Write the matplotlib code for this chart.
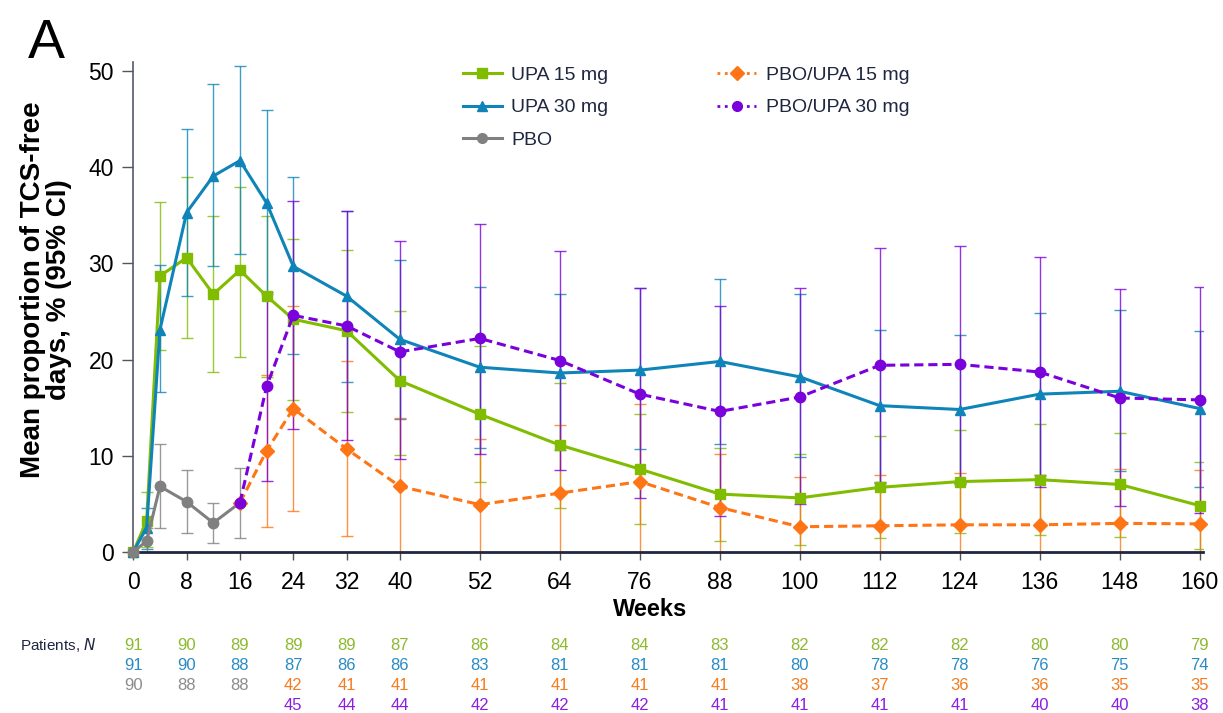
#!/usr/bin/env python

import numpy as np
import matplotlib
matplotlib.use('Agg')
from matplotlib import pyplot as plt
from matplotlib.lines import Line2D
from matplotlib import transforms

plt.rcParams['font.family'] = ['Liberation Sans', 'DejaVu Sans']

# Weeks for each group
upa_weeks = [0, 2, 4, 8, 12, 16, 20, 24, 32, 40, 52, 64, 76, 88, 100, 112, 124, 136, 148, 160]
pbo_weeks = [0, 2, 4, 8, 12, 16]
switch_weeks = [16, 20, 24, 32, 40, 52, 64, 76, 88, 100, 112, 124, 136, 148, 160]

# UPA 15 mg
upa15_mean = [0, 3.2, 28.7, 30.6, 26.8, 29.3, 26.6, 24.2, 23.0, 17.8, 14.3, 11.1, 8.6, 6.0, 5.6, 6.7, 7.3, 7.5, 7.0, 4.8]
upa15_lo = [0, 0.5, 21.0, 22.2, 18.7, 20.3, 18.2, 15.8, 14.5, 10.1, 7.3, 4.6, 2.9, 1.1, 0.7, 1.4, 1.9, 1.7, 1.5, 0.3]
upa15_hi = [0, 6.2, 36.4, 39.0, 34.9, 38.0, 34.9, 32.5, 31.4, 25.1, 21.4, 17.6, 14.3, 10.8, 10.2, 12.0, 12.7, 13.3, 12.4, 9.3]

# UPA 30 mg
upa30_mean = [0, 2.5, 23.1, 35.3, 39.1, 40.7, 36.3, 29.7, 26.6, 22.1, 19.2, 18.6, 18.9, 19.8, 18.2, 15.2, 14.8, 16.4, 16.7, 14.9]
upa30_lo = [0, 0.3, 16.6, 26.6, 29.7, 31.0, 26.8, 20.6, 17.7, 13.8, 10.8, 10.6, 10.7, 11.2, 9.9, 7.3, 7.0, 8.0, 8.4, 6.7]
upa30_hi = [0, 4.5, 29.8, 44.0, 48.7, 50.5, 46.0, 39.0, 35.5, 30.4, 27.5, 26.8, 27.4, 28.4, 26.8, 23.1, 22.6, 24.8, 25.2, 23.0]

# PBO
pbo_mean = [0, 1.1, 6.8, 5.2, 3.0, 5.1]
pbo_lo = [0, 0, 2.5, 2.0, 0.9, 1.4]
pbo_hi = [0, 2.5, 11.2, 8.5, 5.1, 8.7]

# PBO/UPA 15 mg (first point is the week-16 PBO value, no CI drawn)
sw15_mean = [5.1, 10.5, 14.9, 10.7, 6.8, 4.9, 6.1, 7.3, 4.6, 2.6, 2.7, 2.8, 2.8, 2.95, 2.9]
sw15_lo = [5.1, 2.6, 4.2, 1.6, 0, 0, 0, 0, 0, 0, 0, 0, 0, 0, 0]
sw15_hi = [5.1, 18.4, 25.6, 19.8, 13.9, 11.7, 13.2, 15.4, 10.2, 7.8, 8.0, 8.2, 8.0, 8.6, 8.5]

# PBO/UPA 30 mg
sw30_mean = [5.1, 17.2, 24.6, 23.5, 20.8, 22.2, 19.9, 16.4, 14.6, 16.1, 19.4, 19.5, 18.7, 16.0, 15.8]
sw30_lo = [5.1, 7.4, 12.8, 11.6, 9.6, 10.2, 8.5, 5.6, 3.7, 5.0, 7.2, 7.2, 6.7, 4.8, 4.0]
sw30_hi = [5.1, 27.0, 36.5, 35.5, 32.3, 34.1, 31.3, 27.4, 25.6, 27.4, 31.6, 31.8, 30.7, 27.3, 27.5]

# Patients at risk table
tick_weeks = [0, 8, 16, 24, 32, 40, 52, 64, 76, 88, 100, 112, 124, 136, 148, 160]
n_upa15 = [91, 90, 89, 89, 89, 87, 86, 84, 84, 83, 82, 82, 82, 80, 80, 79]
n_upa30 = [91, 90, 88, 87, 86, 86, 83, 81, 81, 81, 80, 78, 78, 76, 75, 74]
n_pbo = [90, 88, 88]
n_sw15 = [42, 41, 41, 41, 41, 41, 41, 38, 37, 36, 36, 35, 35]
n_sw30 = [45, 44, 44, 42, 42, 42, 41, 41, 41, 41, 40, 40, 38]

GREEN = '#80bc00'
BLUE = '#0f84b8'
GRAY = '#808080'
ORANGE = '#ff7415'
PURPLE = '#7a00dc'


def draw_series(ax, x, mean, lo, hi, color, marker, ls, skip_first=False):
    x = np.asarray(x, dtype=float)
    mean = np.asarray(mean, dtype=float)
    lo = np.asarray(lo, dtype=float)
    hi = np.asarray(hi, dtype=float)
    s = slice(1, None) if skip_first else slice(None)
    ax.errorbar(x[s], mean[s], yerr=[mean[s] - lo[s], hi[s] - mean[s]], fmt='none',
                ecolor=color, elinewidth=1.0, capsize=4, capthick=1.0, alpha=0.8, zorder=2)
    ax.plot(x, mean, color=color, ls=ls, lw=2.2, marker=marker, markersize=7.5,
            zorder=3, clip_on=False, dashes=(3, 1.6) if ls == '--' else (None, None))


def main():
    fig = plt.figure(figsize=(12.23, 7.13), dpi=100)
    ax = fig.add_axes([0.109, 0.2262, 0.8746, 0.6873])

    draw_series(ax, upa_weeks, upa15_mean, upa15_lo, upa15_hi, GREEN, 's', '-')
    draw_series(ax, upa_weeks, upa30_mean, upa30_lo, upa30_hi, BLUE, '^', '-')
    draw_series(ax, pbo_weeks, pbo_mean, pbo_lo, pbo_hi, GRAY, 'o', '-')
    draw_series(ax, switch_weeks, sw15_mean, sw15_lo, sw15_hi, ORANGE, 'D', '--', skip_first=True)
    draw_series(ax, switch_weeks, sw30_mean, sw30_lo, sw30_hi, PURPLE, 'o', '--', skip_first=True)

    ax.set_xlim(0, 160.5)
    ax.set_ylim(0, 51)
    ax.set_xticks(tick_weeks)
    ax.set_yticks([0, 10, 20, 30, 40, 50])
    ax.tick_params(axis='both', labelsize=16.5, colors='#555555', labelcolor='black')
    ax.tick_params(axis='x', length=6, width=1, pad=8)
    ax.tick_params(axis='y', length=8, width=1, pad=6)
    for side in ('top', 'right'):
        ax.spines[side].set_visible(False)
    ax.spines['left'].set_color('#555a6a')
    ax.spines['left'].set_linewidth(1.2)
    ax.spines['bottom'].set_color('#1f2740')
    ax.spines['bottom'].set_linewidth(2)

    handles = [
        Line2D([], [], color=GREEN, lw=2.2, marker='s', markersize=7),
        Line2D([], [], color=BLUE, lw=2.2, marker='^', markersize=7),
        Line2D([], [], color=GRAY, lw=2.2, marker='o', markersize=7),
        Line2D([], [], color=ORANGE, lw=2, ls=':', marker='D', markersize=7),
        Line2D([], [], color=PURPLE, lw=2, ls=':', marker='o', markersize=7),
    ]
    labels = ['UPA 15 mg', 'UPA 30 mg', 'PBO', 'PBO/UPA 15 mg', 'PBO/UPA 30 mg']
    leg = ax.legend(handles, labels, ncol=2, loc='upper left', bbox_to_anchor=(0.308, 0.99),
                    frameon=False, fontsize=14, handlelength=2.0, handletextpad=0.5,
                    columnspacing=5.6, labelspacing=0.75, borderpad=0, borderaxespad=0)
    for t in leg.get_texts():
        t.set_color('#1f2740')

    fig.text(0.0229, 1 - 58 / 713, 'A', fontsize=40, ha='left', va='baseline')
    fig.text(46 / 1223, 1 - 290 / 713, 'Mean proportion of TCS-free\ndays, % (95% CI)',
             rotation=90, fontsize=20, fontweight='bold', ha='center', va='center',
             multialignment='center', linespacing=0.95)
    fig.text(650 / 1223, 1 - 609 / 713, 'Weeks', fontsize=17, fontweight='bold',
             ha='center', va='center')

    # patients at risk
    trans = transforms.blended_transform_factory(ax.transData, fig.transFigure)
    fig.text(97 / 1223, 1 - 645 / 713, 'Patients, $\\mathit{N}$', fontsize=11,
             color='#1f2740', ha='right', va='center')
    rows = [
        (tick_weeks, n_upa15, '#8db92e', 645),
        (tick_weeks, n_upa30, '#2a8bc4', 666),
        (tick_weeks[:3], n_pbo, '#8c8c8c', 686),
        (tick_weeks[3:], n_sw15, '#f47b20', 686),
        (tick_weeks[3:], n_sw30, '#8a1fe0', 706),
    ]
    for wks, ns, col, ypix in rows:
        for w, n in zip(wks, ns):
            ax.text(w, 1 - ypix / 713, str(n), transform=trans, fontsize=12,
                    color=col, ha='center', va='center')

    fig.savefig('out.png', dpi=100)
    plt.close(fig)


if __name__ == '__main__':
    main()
